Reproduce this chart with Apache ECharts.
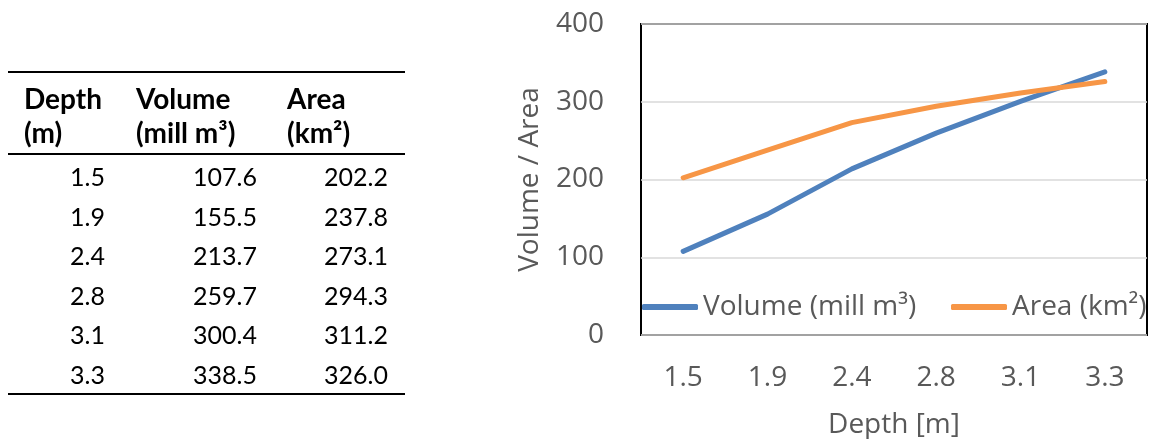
<!DOCTYPE html>
<html><head><meta charset="utf-8">
<script src="https://cdn.jsdelivr.net/npm/echarts@6/dist/echarts.min.js"></script>
<style>html,body{margin:0;padding:0;background:#fff;}#c{width:1149px;height:439px;}</style>
</head><body><div id="c"></div>
<script>
const depths = ['1.5','1.9','2.4','2.8','3.1','3.3'];
const volume = [107.6,155.5,213.7,259.7,300.4,338.5];
const area = [202.2,237.8,273.1,294.3,311.2,326.0];
const tableHeaders = [['Depth','(m)'],['Volume','(mill m³)'],['Area','(km²)']];
const volumeStr = ['107.6','155.5','213.7','259.7','300.4','338.5'];
const areaStr = ['202.2','237.8','273.1','294.3','311.2','326.0'];
const seriesNames = ['Volume (mill m³)','Area (km²)'];

const chart = echarts.init(document.getElementById('c'));
const tFont = 'Lato, "Open Sans", sans-serif';
const graphics = [];
[72,154,394].forEach(y=>graphics.push({type:'line',shape:{x1:8,y1:y,x2:405,y2:y},style:{stroke:'#000',lineWidth:2}}));
const hx = [24,136,287];
tableHeaders.forEach((h,i)=>{
  h.forEach((t,j)=>graphics.push({type:'text',x:hx[i],y:100+j*34,style:{text:t,font:'bold 28px '+tFont,fill:'#000',textAlign:'left',textVerticalAlign:'middle'}}));
});
const colX = [105,257,388];
depths.forEach((d,r)=>{
  const y = 178 + r*39.5;
  [d, volumeStr[r], areaStr[r]].forEach((t,i)=>graphics.push({type:'text',x:colX[i],y:y,style:{text:t,font:'25px '+tFont,fill:'#000',textAlign:'right',textVerticalAlign:'middle'}}));
});

const cFont = '"Open Sans", sans-serif';
const colors = ['#4f81bd','#f79646'];
const legendBase = {top:288,itemWidth:56,itemHeight:6,icon:'roundRect',
    textStyle:{fontFamily:cFont,fontSize:28,color:'#595959'}};
chart.setOption({
  animation:false,
  graphic:graphics,
  grid:{left:641,right:2,top:24,bottom:104,show:true,borderColor:'#000',borderWidth:2,backgroundColor:'transparent',outerBoundsMode:'none'},
  legend:[
    Object.assign({left:637,data:[seriesNames[0]]},legendBase),
    Object.assign({left:946,data:[seriesNames[1]]},legendBase)
  ],
  xAxis:{type:'category',data:depths,boundaryGap:true,
    axisLine:{show:false},axisTick:{show:false},
    axisLabel:{fontFamily:cFont,fontSize:28,color:'#595959',margin:29},
    name:'Depth [m]',nameLocation:'middle',nameGap:76,
    nameTextStyle:{fontFamily:cFont,fontSize:28,color:'#595959'}},
  yAxis:{type:'value',min:0,max:400,interval:100,
    axisLine:{show:false},axisTick:{show:false},
    splitLine:{lineStyle:{color:'#d9d9d9',width:1.5}},
    axisLabel:{fontFamily:cFont,fontSize:28,color:'#595959',margin:37},
    name:'Volume / Area',nameLocation:'middle',nameGap:97,
    nameTextStyle:{fontFamily:cFont,fontSize:28,color:'#595959'}},
  series:[
    {name:seriesNames[0],type:'line',data:volume,symbol:'none',lineStyle:{color:colors[0],width:5,cap:'round'},itemStyle:{color:colors[0]}},
    {name:seriesNames[1],type:'line',data:area,symbol:'none',lineStyle:{color:colors[1],width:5,cap:'round'},itemStyle:{color:colors[1]}}
  ]
});
</script></body></html>
